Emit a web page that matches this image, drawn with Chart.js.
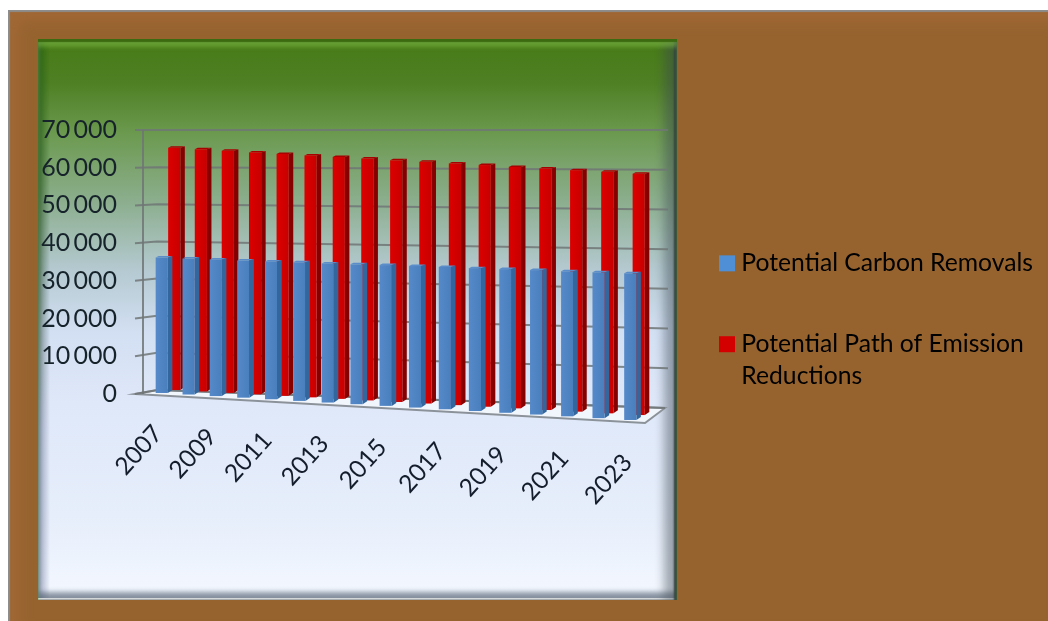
<!DOCTYPE html>
<html>
<head>
<meta charset="utf-8">
<title>Potential Carbon Removals</title>
<script src="https://cdn.jsdelivr.net/npm/chart.js@4"></script>
<style>
  html, body { margin: 0; padding: 0; background: #fff; overflow: hidden; }
  #sheet { position: absolute; left: 8px; top: 10px; width: 1040px; height: 611px; background: #96632f;
    box-shadow: inset 2px 2px 1px #8d8d8d, inset 12px 12px 14px rgba(190,120,70,.25); }
  #panel { position: absolute; left: 38px; top: 39px; width: 639px; height: 561px;
    background: linear-gradient(180deg, #467a16 0%, #4f8024 8%, #6c9a50 17%, #8cae8e 29%, #b4c9d0 41%, #d2dff2 52%, #dfe8f9 65%, #e6eefb 85%, #f4f8ff 100%); }
  #bevel { position: absolute; left: 38px; top: 39px; width: 639px; height: 561px;
    box-shadow: inset 0 3px 1px #3b6a10, inset 0 8px 4px rgba(135,200,75,.5),
      inset -3px 0 2px #2c3a3e, inset -13px 0 10px rgba(60,70,80,.45), inset 0 -2px 0 #fff, inset 0 -8px 5px rgba(80,95,115,.6); }
  #edge { position: absolute; left: 38px; top: 39px; width: 12px; height: 561px;
    background: linear-gradient(180deg, #2c6412 0%, #2f5f22 25%, #54705e 45%, #7f88a6 70%, #8f97b8 100%);
    -webkit-mask-image: linear-gradient(90deg, #000 0%, rgba(0,0,0,.55) 35%, transparent 100%); }
  canvas { position: absolute; left: 0; top: 0; }
</style>
</head>
<body>
<div id="sheet"></div>
<div id="panel"></div>
<div id="edge"></div>
<div id="bevel"></div>
<canvas id="removals" width="1048" height="621"></canvas>
<script>
var years = ["2007", "2008", "2009", "2010", "2011", "2012", "2013", "2014", "2015", "2016", "2017", "2018", "2019", "2020", "2021", "2022", "2023"];
var carbonRemovals = [35500, 35450, 35450, 35400, 35400, 35400, 35350, 35350, 35400, 35400, 35400, 35350, 35350, 35350, 35300, 35300, 35300];
var emissionPath = [64500, 64250, 64000, 63700, 63450, 63200, 62950, 62700, 62400, 62150, 61900, 61650, 61350, 61100, 60850, 60600, 60300];
var seriesNames = ["Potential Carbon Removals", "Potential Path of Emission Reductions"];
var legendLines = [["Potential Carbon Removals"], ["Potential Path of Emission", "Reductions"]];
var yTicks = [0, 10000, 20000, 30000, 40000, 50000, 60000, 70000];

var textFont = "Lato";

// look of each row of columns, front row first
var rows = [
  { left: 150.7, right: 648.5, baseLeft: 392.2, baseRight: 420.9, growLeft: 1.02, growRight: 1.116,
    face: ["#5589c9", "#4a7fbd"], side: "#33669c", cap: "#5a8dca" },
  { left: 163.3, right: 656.8, baseLeft: 389.3, baseRight: 415.9, growLeft: 1.0, growRight: 1.07,
    face: ["#dc0000", "#c80000"], side: "#860000", cap: "#a80000" }
];

// columns spread out a little towards the right hand side
function spread(u) {
  return u + 0.094 * (u * u - u);
}

function lerp(a, b, t) {
  return a + (b - a) * t;
}

function drawColumn(ctx, row, el, area, zero) {
  var t = spread((el.x - area.left) / area.width);
  var cx = lerp(row.left, row.right, t);
  var base = lerp(row.baseLeft, row.baseRight, t);
  // the cap is part of the column height
  var top = base - (zero - el.y) * lerp(row.growLeft, row.growRight, t) + 1.5;
  var l = cx - el.width / 2;
  var fw = el.width - 4.5;
  var fill = ctx.createLinearGradient(l, 0, l + fw, 0);
  fill.addColorStop(0, row.face[0]);
  fill.addColorStop(1, row.face[1]);

  ctx.fillStyle = row.side;
  ctx.beginPath();
  ctx.moveTo(l + fw, top);
  ctx.lineTo(l + el.width, top - 1.5);
  ctx.lineTo(l + el.width, base - 3);
  ctx.lineTo(l + fw, base);
  ctx.closePath();
  ctx.fill();

  ctx.fillStyle = row.cap;
  ctx.beginPath();
  ctx.moveTo(l, top);
  ctx.lineTo(l + 3, top - 1.5);
  ctx.lineTo(l + el.width, top - 1.5);
  ctx.lineTo(l + fw, top);
  ctx.closePath();
  ctx.fill();

  ctx.fillStyle = fill;
  ctx.fillRect(l, top, fw, base - top);
}

var perspective = {
  id: "perspective",
  afterLayout: function(chart) {
    // legend sits out on the brown part, away from the plot
    var legend = chart.legend;
    var pad = legend.options.labels.padding;
    legend.left = 725 - pad;
    legend.top = 251 - pad;
    legend.right = 1048;
    legend.bottom = 621;
  },
  beforeDraw: function(chart) {
    // year labels follow the sloping floor
    var area = chart.chartArea;
    chart.scales.x.getLabelItems().forEach(function(item) {
      if (item.moved) return;
      var t = spread((item.options.translation[0] - area.left) / area.width);
      item.options.translation[0] = lerp(143, 644, t);
      item.options.translation[1] = lerp(419, 450, t);
      item.moved = true;
    });
  },
  beforeDatasetsDraw: function(chart) {
    var ctx = chart.ctx;
    var y = chart.scales.y;
    ctx.save();

    // floor
    ctx.fillStyle = "#f1f5fc";
    ctx.strokeStyle = "#8c9299";
    ctx.lineWidth = 2;
    ctx.beginPath();
    ctx.moveTo(135, y.bottom);
    ctx.lineTo(158, 390);
    ctx.lineTo(665, 408);
    ctx.lineTo(645, 423);
    ctx.closePath();
    ctx.fill();
    ctx.stroke();

    // gridlines fan out along the back wall
    ctx.strokeStyle = "rgba(112,118,118,0.85)";
    yTicks.forEach(function(v) {
      var py = y.getPixelForValue(v);
      var f = (py - y.top) / (y.bottom - y.top);
      ctx.beginPath();
      ctx.moveTo(135, py);
      ctx.lineTo(157, py - 4 * f);
      ctx.lineTo(v == 0 ? 665 : 668, y.top + f * 278);
      ctx.stroke();
    });

    ctx.beginPath();
    ctx.moveTo(y.right, y.top);
    ctx.lineTo(y.right, y.bottom);
    ctx.stroke();
    ctx.restore();
  },
  beforeDatasetDraw: function(chart, args) {
    var ctx = chart.ctx;
    var row = rows[args.index];
    var zero = chart.scales.y.getPixelForValue(0);
    ctx.save();
    args.meta.data.forEach(function(el) {
      drawColumn(ctx, row, el, chart.chartArea, zero);
    });
    ctx.restore();
    return false;
  }
};

new Chart(document.getElementById("removals"), {
  type: "bar",
  data: {
    labels: years,
    datasets: [
      { label: seriesNames[0], data: carbonRemovals, backgroundColor: "#4f81bd", grouped: false, barPercentage: 0.54, categoryPercentage: 1 },
      { label: seriesNames[1], data: emissionPath, backgroundColor: "#d50000", grouped: false, barPercentage: 0.54, categoryPercentage: 1 }
    ]
  },
  options: {
    responsive: false,
    animation: false,
    layout: { padding: { left: 40, top: 130, right: 40, bottom: 77 } },
    scales: {
      x: {
        grid: { display: false },
        border: { display: false },
        afterFit: function(s) { s.height = 150; },
        ticks: {
          autoSkip: false,
          maxRotation: 48,
          minRotation: 48,
          color: "#141d2b",
          font: { family: textFont, size: 24.5 },
          callback: function(v, i) { return i % 2 ? null : years[i]; }
        }
      },
      y: {
        min: 0,
        max: 70000,
        grid: { display: false },
        border: { display: false },
        afterFit: function(s) { s.width = 103; },
        afterBuildTicks: function(s) { s.ticks = yTicks.map(function(v) { return { value: v }; }); },
        ticks: {
          padding: 18,
          color: "#17232b",
          font: { family: textFont, size: 25 },
          callback: function(v) { return String(v).replace(/(\d)(\d{3})$/, "$1\u2009$2"); }
        }
      }
    },
    plugins: {
      tooltip: { enabled: false },
      legend: {
        position: "right",
        align: "start",
        maxWidth: 340,
        labels: {
          padding: 49,
          boxWidth: 4,
          boxHeight: 4,
          color: "#2b1608",
          font: { family: textFont, size: 24.7, lineHeight: 1.29 },
          generateLabels: function(chart) {
            return chart.data.datasets.map(function(ds, i) {
              return { text: legendLines[i], fillStyle: i ? "#d40000" : "#4f8fd6", strokeStyle: i ? "#d40000" : "#4f8fd6", lineWidth: 12, datasetIndex: i };
            });
          }
        }
      }
    }
  },
  plugins: [perspective]
});
</script>
</body>
</html>
